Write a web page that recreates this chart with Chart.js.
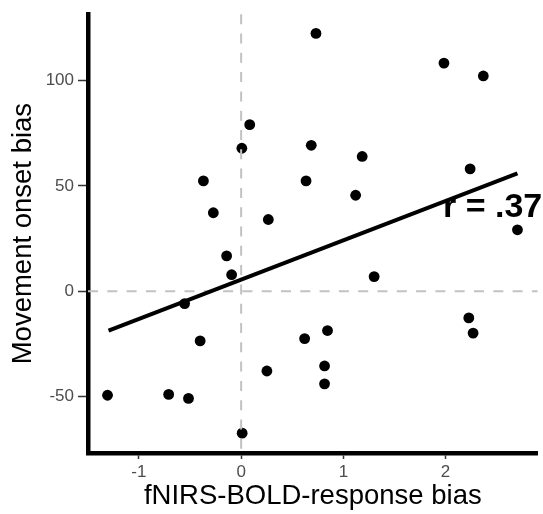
<!DOCTYPE html>
<html>
<head>
<meta charset="utf-8">
<script src="https://cdn.jsdelivr.net/npm/chart.js@4/dist/chart.umd.min.js"></script>
<style>
  html, body { margin: 0; padding: 0; background: #ffffff; }
  #wrap { width: 543px; height: 514px; }
</style>
</head>
<body>
<div id="wrap"><canvas id="c" width="543" height="514"></canvas></div>
<script>
// fNIRS-BOLD-response bias (x) vs Movement onset bias (y)
const xValues = [0.084, 0.007, -0.369, -0.272, 0.266, -0.142, 0.732, 1.984, 2.369, 0.686,
                 1.184, 0.635, 1.120, 2.240, 2.703, -0.093, -0.553, -0.401, 0.252, -1.307,
                 -0.709, -0.515, 0.010, 1.301, 2.227, 2.269, 0.621, 0.845, 0.816, 0.816];
const yValues = [79.1, 67.9, 52.4, 37.3, 34.1, 16.8, 122.4, 108.3, 102.2, 69.3,
                 64.0, 52.4, 45.6, 58.1, 29.2, 7.9, -5.8, -23.5, -37.8, -49.3,
                 -48.9, -50.8, -67.3, 7.0, -12.6, -19.8, -22.4, -18.6, -35.4, -43.9];
// fitted regression line end points
const fitX = [-1.297, 2.703];
const fitY = [-18.6, 56.0];
// tick labels
const xTicks = [-1, 0, 1, 2];
const yTicks = [-50, 0, 50, 100];
// reference lines
const refX = [0];
const refY = [0];
// annotation
const annText = 'r = .37';
const annPos = [2.46, 39.8];

const xTitle = 'fNIRS-BOLD-response bias';
const yTitle = 'Movement onset bias';

const FONT = "'Liberation Sans', Arial, Helvetica, sans-serif";

const scatterData = xValues.map((x, i) => ({ x: x, y: yValues[i] }));
const fitData = fitX.map((x, i) => ({ x: x, y: fitY[i] }));

const refLinesPlugin = {
  id: 'refLines',
  afterDatasetDraw(chart, args) {
    if (args.index !== 0) return;
    const { ctx, chartArea: a, scales: { x, y } } = chart;
    ctx.save();
    ctx.strokeStyle = '#c2c2c2';
    ctx.lineWidth = 2;
    ctx.setLineDash([10, 9.3]);
    refX.forEach(v => {
      const px = x.getPixelForValue(v);
      ctx.beginPath(); ctx.moveTo(px, a.top); ctx.lineTo(px, a.bottom); ctx.stroke();
    });
    refY.forEach(v => {
      const py = y.getPixelForValue(v);
      ctx.beginPath(); ctx.moveTo(a.left, py); ctx.lineTo(a.right, py); ctx.stroke();
    });
    ctx.restore();
  }
};

const annotationPlugin = {
  id: 'annot',
  afterDatasetsDraw(chart) {
    const { ctx, scales: { x, y } } = chart;
    ctx.save();
    ctx.font = "bold 34px " + FONT;
    ctx.fillStyle = '#000000';
    ctx.textAlign = 'center';
    ctx.textBaseline = 'middle';
    ctx.fillText(annText, x.getPixelForValue(annPos[0]), y.getPixelForValue(annPos[1]));
    ctx.restore();
  }
};

const whiteBg = {
  id: 'whiteBg',
  beforeDraw(chart) {
    const { ctx } = chart;
    ctx.save();
    ctx.fillStyle = '#ffffff';
    ctx.fillRect(0, 0, chart.width, chart.height);
    ctx.restore();
  }
};

new Chart(document.getElementById('c'), {
  type: 'scatter',
  data: {
    datasets: [
      {
        type: 'scatter',
        data: scatterData,
        backgroundColor: '#000000',
        borderWidth: 0,
        pointRadius: 5.4,
        pointHoverRadius: 5.4,
        order: 1
      },
      {
        type: 'line',
        data: fitData,
        borderColor: '#000000',
        borderWidth: 4,
        pointRadius: 0,
        fill: false,
        tension: 0,
        borderCapStyle: 'butt',
        order: 0
      }
    ]
  },
  options: {
    responsive: false,
    animation: false,
    events: [],
    layout: { padding: { left: 0, right: 2, top: 13, bottom: 0 } },
    plugins: { legend: { display: false }, tooltip: { enabled: false } },
    scales: {
      x: {
        type: 'linear',
        min: -1.498,
        max: 2.90,
        afterBuildTicks: s => { s.ticks = xTicks.map(v => ({ value: v })); },
        afterFit: s => { s.height = 61; },
        grid: { display: true, drawOnChartArea: false, drawTicks: true, tickLength: 6, tickColor: '#333333', tickWidth: 1.5 },
        border: { display: true, color: '#000000', width: 4.5 },
        ticks: { color: '#4d4d4d', font: { family: FONT, size: 17 }, padding: 2.8, maxRotation: 0 },
        title: { display: true, text: xTitle, color: '#000000', font: { family: FONT, size: 27.5 }, padding: { top: 0, bottom: 1.0 } }
      },
      y: {
        type: 'linear',
        min: -76.7,
        max: 131.5,
        afterBuildTicks: s => { s.ticks = yTicks.map(v => ({ value: v })); },
        afterFit: s => { s.width = 88; },
        grid: { display: true, drawOnChartArea: false, drawTicks: true, tickLength: 10, tickColor: '#333333', tickWidth: 1.5 },
        border: { display: true, color: '#000000', width: 4.5 },
        ticks: { color: '#4d4d4d', font: { family: FONT, size: 17 }, padding: 4 },
        title: { display: true, text: yTitle, color: '#000000', font: { family: FONT, size: 27.5 }, padding: { top: 7.2, bottom: 0 } }
      }
    }
  },
  plugins: [whiteBg, refLinesPlugin, annotationPlugin]
});
</script>
</body>
</html>
